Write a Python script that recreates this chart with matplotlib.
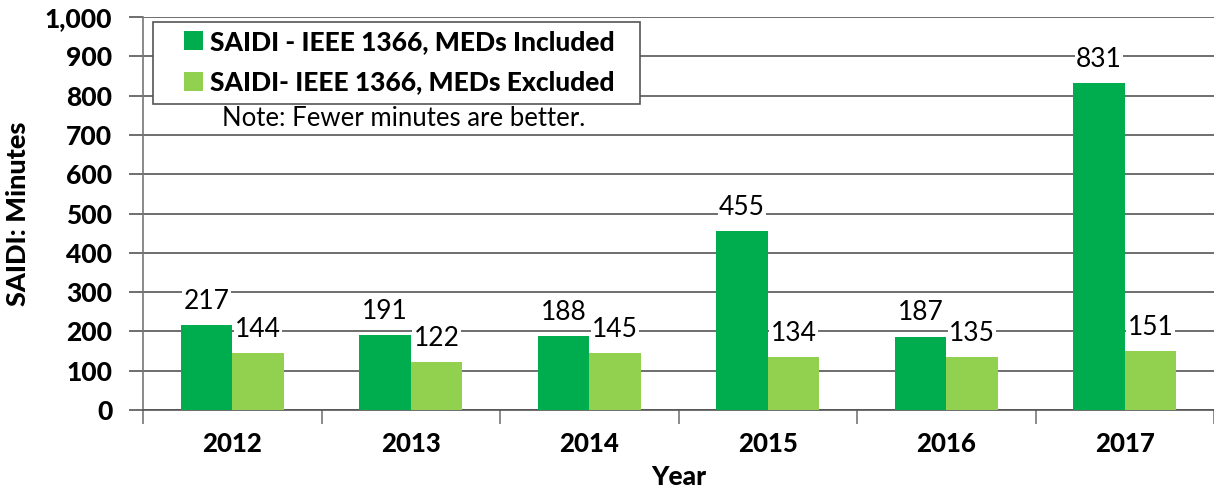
import numpy as np
import matplotlib.pyplot as plt
from matplotlib.patches import Rectangle
from matplotlib.ticker import FuncFormatter

plt.rcParams['font.family'] = ['Lato', 'DejaVu Sans']
plt.rcParams['font.weight'] = 'black'
plt.rcParams['axes.labelweight'] = 'black'

years = ['2012', '2013', '2014', '2015', '2016', '2017']
meds_included = [217, 191, 188, 455, 187, 831]
meds_excluded = [144, 122, 145, 134, 135, 151]

dark_green = '#00ad4e'
light_green = '#92d050'

W, H = 1214, 488
fig = plt.figure(figsize=(W / 100, H / 100), dpi=100)
ax = fig.add_axes([143 / W, 1 - 410 / H, 1071 / W, 393 / H])

x = np.arange(len(years))
w = 0.288
b1 = ax.bar(x - w / 2, meds_included, w, color=dark_green, zorder=3,
            label='SAIDI - IEEE 1366, MEDs Included')
b2 = ax.bar(x + w / 2, meds_excluded, w, color=light_green, zorder=3,
            label='SAIDI- IEEE 1366, MEDs Excluded')

for bars in (b1, b2):
    for rect in bars:
        h = rect.get_height()
        ax.annotate('%d' % h, (rect.get_x() + rect.get_width() / 2, h),
                    xytext=(0, 8), textcoords='offset points',
                    ha='center', va='bottom', fontsize=19, fontweight='normal',
                    zorder=4,
                    bbox=dict(boxstyle='square,pad=0.05', fc='white', ec='none'))

ax.set_ylim(0, 1000)
ax.set_xlim(-0.5, len(years) - 0.5)
ax.set_yticks(np.arange(0, 1001, 100))
ax.yaxis.set_major_formatter(FuncFormatter(lambda v, p: '{:,.0f}'.format(v)))
ax.grid(axis='y', color='#555555', linewidth=1.2, zorder=0)

ax.set_xticks(np.arange(-0.5, len(years), 1.0))
ax.set_xticklabels([])
ax.set_xticks(x, minor=True)
ax.set_xticklabels(years, minor=True, fontsize=18.5)
ax.tick_params(axis='x', which='major', length=10, color='#777777', width=1.2)
ax.tick_params(axis='x', which='minor', length=0, pad=16)
ax.tick_params(axis='y', length=10, color='#555555', width=1.2,
               labelsize=19, pad=12)

for s in ['top', 'right']:
    ax.spines[s].set_visible(False)
ax.spines['left'].set_color('#777777')
ax.spines['left'].set_linewidth(1.2)
ax.spines['bottom'].set_color('#555555')
ax.spines['bottom'].set_linewidth(1.2)

ax.set_xlabel('Year', fontsize=19, labelpad=6)
ax.set_ylabel('SAIDI: Minutes', fontsize=19.5)
ax.yaxis.set_label_coords(-0.1055, 0.5)

# legend frame (Excel style, wide side padding)
frame = Rectangle((153 / W, 1 - 104 / H), (640 - 153) / W, (104 - 22) / H,
                  transform=fig.transFigure, facecolor='white',
                  edgecolor='#555555', linewidth=1.2, zorder=5)
fig.add_artist(frame)

leg = fig.legend(handles=[b1, b2], loc='upper left',
                 bbox_to_anchor=(184 / W, 1 - 30 / H),
                 prop={'size': 19}, frameon=False,
                 handlelength=0.72, handleheight=0.72, handletextpad=0.25,
                 borderpad=0, labelspacing=0.62, borderaxespad=0)
leg.set_zorder(6)

ax.text(0.0735, 0.743, 'Note: Fewer minutes are better.', transform=ax.transAxes,
        fontsize=18.5, fontweight='normal', ha='left', va='center', zorder=5,
        bbox=dict(boxstyle='square,pad=0.1', fc='white', ec='none'))

fig.savefig('out.png', dpi=100)
